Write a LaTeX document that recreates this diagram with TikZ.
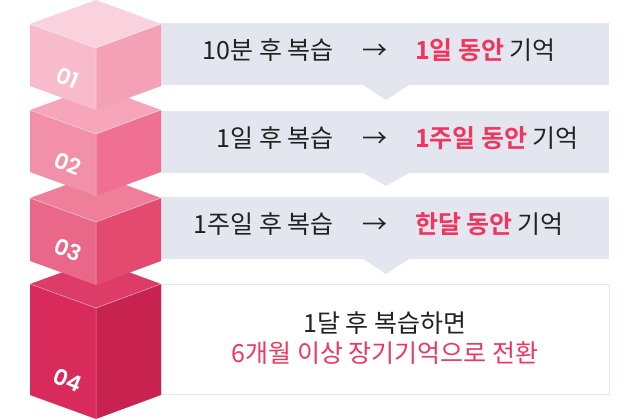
\documentclass[tikz,border=0pt]{standalone}
\usepackage{fontspec}
\newfontfamily\kr{Noto Sans CJK KR}
\newfontfamily\krb{Noto Sans CJK KR Bold}
\newfontfamily\pop{Poppins SemiBold}
\definecolor{panel}{HTML}{E4E6EF}
\definecolor{hl}{HTML}{F0365E}
\definecolor{txt}{HTML}{222222}
\definecolor{aL}{HTML}{F8BBCB}\definecolor{aR}{HTML}{F4A0B7}\definecolor{aT}{HTML}{F9D2DE}
\definecolor{bL}{HTML}{F290AA}\definecolor{bR}{HTML}{F07093}\definecolor{bT}{HTML}{F6A5BA}
\definecolor{cL}{HTML}{E96788}\definecolor{cR}{HTML}{E4496F}\definecolor{cT}{HTML}{EE7E9A}
\definecolor{dL}{HTML}{D92A5C}\definecolor{dR}{HTML}{C82350}\definecolor{dT}{HTML}{DE3C68}
\tikzset{
  lbl/.style={font=\kr\fontsize{25}{28}\selectfont, text=txt, inner sep=0pt},
  hlb/.style={font=\krb\fontsize{25}{28}\selectfont, text=hl, inner sep=0pt},
  num/.style={font=\pop\fontsize{22}{24}\selectfont, text=white, rotate=-22, inner sep=0pt},
}
\newcommand{\cube}[9]{%
 \fill[#3] (30,#1) -- (96,#1+24) -- (96,#2+24) -- (30,#2) -- cycle;
 \fill[#4] (161,#1) -- (96,#1+24) -- (96,#2+24) -- (161,#2) -- cycle;
 \fill[#5] (30,#1) -- (96,#1-24) -- (161,#1) -- (96,#1+24) -- cycle;
 \draw[white,opacity=0.5,line width=0.5pt] (30,#1) -- (96,#1+24) -- (161,#1) (96,#1+24) -- (96,#2+24);
 \node[num] (#6) at (#7,#8) {#9};
}
\begin{document}
\begin{tikzpicture}[x=1pt,y=-1pt]
\useasboundingbox (0,0) rectangle (640,420);
\fill[panel] (161,23) rectangle (609,85);
\fill[panel] (363,85) -- (386,100) -- (409,85) -- cycle;
\fill[panel] (161,111) rectangle (609,173);
\fill[panel] (363,173) -- (386,186) -- (409,173) -- cycle;
\fill[panel] (161,197) rectangle (609,259);
\fill[panel] (363,259) -- (386,274) -- (409,259) -- cycle;
\draw[panel,fill=white,line width=0.8pt] (161,284) rectangle (609,394);
\cube{284}{395}{dL}{dR}{dT}{n4}{68}{380}{04}
\cube{198}{261}{cL}{cR}{cT}{n3}{68}{250}{03}
\cube{110}{172}{bL}{bR}{bT}{n2}{68}{164}{02}
\cube{24}{86}{aL}{aR}{aT}{n1}{68}{78}{01}
\node[lbl,anchor=east] (a1) at (334,50) {10분 후 복습};
\node[lbl] (r1) at (375,52) {→};
\node[hlb,anchor=west] (b1) at (415,50) {1일 동안};
\node[lbl,anchor=west] (c1) at (b1.east) {\,기억};
\node[lbl,anchor=east] (a2) at (334,138) {1일 후 복습};
\node[lbl] (r2) at (375,140) {→};
\node[hlb,anchor=west] (b2) at (415,138) {1주일 동안};
\node[lbl,anchor=west] (c2) at (b2.east) {\,기억};
\node[lbl,anchor=east] (a3) at (334,224) {1주일 후 복습};
\node[lbl] (r3) at (375,226) {→};
\node[hlb,anchor=west] (b3) at (415,224) {한달 동안};
\node[lbl,anchor=west] (c3) at (b3.east) {\,기억};
\node[lbl] (d1) at (385,323) {1달 후 복습하면};
\node[lbl,text=hl] (d2) at (385,353) {6개월 이상 장기기억으로 전환};
\end{tikzpicture}
\end{document}
